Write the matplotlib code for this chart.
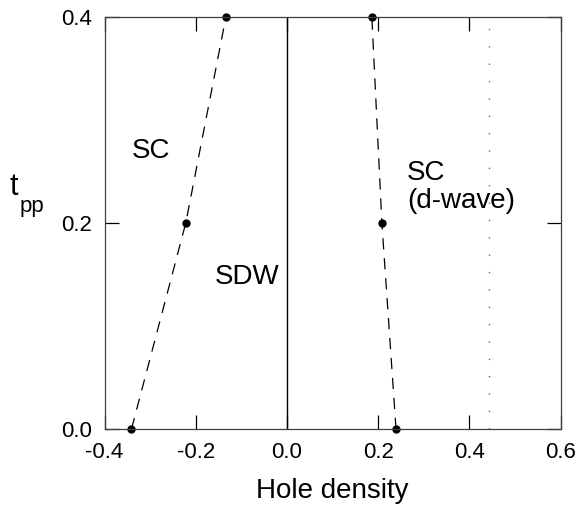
import matplotlib

matplotlib.use("Agg")

import matplotlib.pyplot as plt

# phase boundaries (hole density, t_pp)
left_x = [-0.341, -0.222, -0.134]
left_y = [0.0, 0.2, 0.4]
right_x = [0.239, 0.208, 0.186]
right_y = [0.0, 0.2, 0.4]
dotted_x = 0.443
xticks = [-0.4, -0.2, 0.0, 0.2, 0.4, 0.6]
yticks = [0.0, 0.2, 0.4]

plt.rcParams["font.family"] = ["Liberation Sans", "DejaVu Sans"]

fig = plt.figure(figsize=(5.81, 5.08), dpi=100)
ax = fig.add_axes([0.180, 0.1555, 0.785, 0.811])

ax.plot(left_x, left_y, color="black", linestyle=(0, (9, 7)), linewidth=0.9,
        marker="o", markersize=5, clip_on=False)
ax.plot(right_x, right_y, color="black", linestyle=(0, (9, 7)), linewidth=0.9,
        marker="o", markersize=5, clip_on=False)
ax.axvline(0.0, color="black", linewidth=1.0)
ax.axvline(dotted_x, color="0.4", linewidth=1.0, linestyle=(0, (1, 11.5)))

ax.text(-0.340, 0.263, "SC", fontsize=20)
ax.text(-0.158, 0.141, "SDW", fontsize=20)
ax.text(0.263, 0.2417, "SC", fontsize=20)
ax.text(0.263, 0.2146, "(d-wave)", fontsize=20)

ax.set_xlim(-0.4, 0.6)
ax.set_ylim(0.0, 0.4)
ax.set_xticks(xticks)
ax.set_yticks(yticks)
ax.set_xticklabels([f"{v:.1f}" for v in xticks])
ax.set_yticklabels([f"{v:.1f}" for v in yticks])
ax.tick_params(direction="in", length=10, width=0.9, top=True, right=True,
               labelsize=16, pad=9)
for spine in ax.spines.values():
    spine.set_linewidth(0.9)
    spine.set_color("0.25")

ax.set_xlabel("Hole density", fontsize=20, labelpad=11)
fig.text(0.017, 0.616, "t", fontsize=22)
fig.text(0.033, 0.583, "pp", fontsize=16)

fig.savefig("out.png", dpi=100)
